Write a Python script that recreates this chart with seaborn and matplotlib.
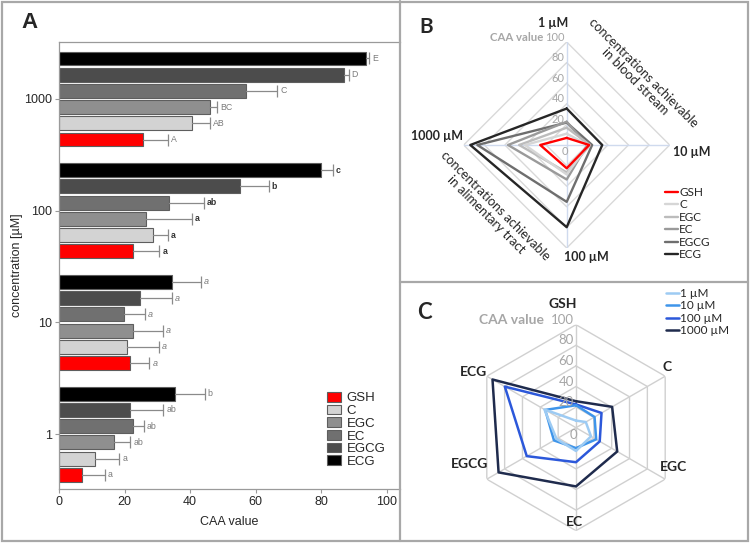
import numpy as np
import pandas as pd
import matplotlib
matplotlib.use("Agg")
import matplotlib.pyplot as plt
import seaborn as sns
from matplotlib.patches import Patch, Rectangle
from matplotlib.lines import Line2D

# ---------------- data ----------------
compounds = ["GSH", "C", "EGC", "EC", "EGCG", "ECG"]
concentrations = ["1", "10", "100", "1000"]
conc_labels = ["1 µM", "10 µM", "100 µM", "1000 µM"]

# CAA values per compound, in order 1, 10, 100, 1000 µM
caa_gsh = [6.9, 21.8, 22.6, 25.7]
caa_c = [11.0, 20.8, 28.6, 40.5]
caa_egc = [16.8, 22.6, 26.6, 46.2]
caa_ec = [22.6, 19.8, 33.5, 57.0]
caa_egcg = [21.8, 24.7, 55.2, 86.8]
caa_ecg = [35.4, 34.5, 79.8, 93.6]

err_gsh = [7.1, 5.8, 8.0, 7.6]
err_c = [7.4, 9.8, 4.7, 5.7]
err_egc = [5.0, 9.2, 13.9, 2.0]
err_ec = [3.2, 6.5, 10.8, 9.6]
err_egcg = [10.0, 9.8, 8.8, 1.5]
err_ecg = [9.0, 8.8, 3.7, 1.0]

let_gsh = ["a", "a", "a", "A"]
let_c = ["a", "a", "a", "AB"]
let_egc = ["ab", "a", "a", "BC"]
let_ec = ["ab", "a", "ab", "C"]
let_egcg = ["ab", "a", "b", "D"]
let_ecg = ["b", "a", "c", "E"]

radial_ticks = [0, 20, 40, 60, 80, 100]

values = dict(zip(compounds, [caa_gsh, caa_c, caa_egc, caa_ec, caa_egcg, caa_ecg]))
errors = dict(zip(compounds, [err_gsh, err_c, err_egc, err_ec, err_egcg, err_ecg]))
letters = dict(zip(compounds, [let_gsh, let_c, let_egc, let_ec, let_egcg, let_ecg]))

rows = []
for comp in compounds:
    for i, conc in enumerate(concentrations):
        rows.append(dict(compound=comp, conc=conc, conc_label=conc_labels[i],
                         value=values[comp][i], err=errors[comp][i],
                         letter=letters[comp][i]))
df = pd.DataFrame(rows)

# ---------------- style ----------------
sns.set_theme(style="white")
plt.rcParams["font.family"] = ["Liberation Sans", "DejaVu Sans"]
CAL = ["Lato", "DejaVu Sans"]

W, H = 750, 545
def fx(x):
    return x / W
def fy(y):
    return 1 - y / H

fig = plt.figure(figsize=(7.5, 5.45), dpi=100)

# frame
frame_col = "#a8a8a8"
fig.add_artist(Rectangle((fx(2), fy(541)), fx(746), 539 / H, transform=fig.transFigure,
                         fill=False, edgecolor=frame_col, lw=1.6))
fig.add_artist(Line2D([fx(400), fx(400)], [fy(1), fy(541)], transform=fig.transFigure,
                      color=frame_col, lw=1.6))
fig.add_artist(Line2D([fx(400), fx(748)], [fy(282), fy(282)], transform=fig.transFigure,
                      color=frame_col, lw=1.6))

# ---------------- panel A ----------------
bar_colors = {"GSH": "#ff0000", "C": "#d3d3d3", "EGC": "#8f8f8f",
              "EC": "#707070", "EGCG": "#4c4c4c", "ECG": "#000000"}
axA = fig.add_axes([fx(59), fy(489), (400 - 59) / W, (489 - 42) / H])
order = ["1000", "100", "10", "1"]
sns.barplot(data=df, y="conc", x="value", hue="compound", order=order,
            hue_order=compounds[::-1], palette=bar_colors, orient="h",
            width=0.87, gap=0.14, errorbar=None, edgecolor="#5e5e5e",
            linewidth=0.8, saturation=1, legend=False, ax=axA)

for p in axA.patches:
    yc = p.get_y() + p.get_height() / 2
    cat = order[int(round(yc))]
    sub = df[df.conc == cat]
    row = sub.iloc[(sub.value - p.get_width()).abs().argmin()]
    v, e = row.value, row.err
    axA.plot([v, v + e], [yc, yc], color="#8a8a8a", lw=0.9, zorder=3)
    axA.plot([v + e], [yc], marker="|", ms=8, mew=0.9, color="#8a8a8a", zorder=3)
    kw = dict(fontsize=6.3, color="#7a7a7a")
    if cat == "100":
        kw = dict(fontsize=6.3, color="#333333", fontweight="bold")
    elif cat == "10":
        kw = dict(fontsize=6.5, color="#7a7a7a", fontstyle="italic")
    axA.text(v + e + 0.9, yc, row.letter, va="center", ha="left", **kw)

axA.set_xlim(0, 104)
axA.set_ylim(3.49, -0.51)
axA.set_xticks([0, 20, 40, 60, 80, 100])
axA.set_xlabel("CAA value", fontsize=9, labelpad=6)
axA.set_ylabel("concentration [µM]", fontsize=9, labelpad=1)
axA.tick_params(axis="both", labelsize=9, length=3, color="#9a9a9a", width=0.8,
                bottom=True, left=True, pad=2)
for s in axA.spines.values():
    s.set_color("#9a9a9a")
    s.set_linewidth(0.9)
axA.spines["right"].set_visible(False)

handlesA = [Patch(facecolor=bar_colors[c], edgecolor="#5e5e5e", lw=0.8) for c in compounds]
axA.legend(handlesA, compounds, loc="upper left", bbox_to_anchor=(fx(327), fy(392)),
           bbox_transform=fig.transFigure, frameon=False, fontsize=9.5,
           handlelength=1.05, handleheight=0.75, handletextpad=0.45,
           labelspacing=0.02, borderaxespad=0, borderpad=0)

fig.text(fx(30), fy(23), "A", fontsize=16, fontweight="bold", ha="center", va="center")


# ---------------- radar helper ----------------
def radar_grid(ax, thetas, grid_col, spoke_col, label_size):
    closed = list(thetas) + [thetas[0]]
    for lvl in radial_ticks[1:]:
        ax.plot(closed, [lvl] * len(closed), color=grid_col, lw=1.0, zorder=1)
    for th in thetas:
        ax.plot([th, th], [0, 100], color=spoke_col, lw=1.0, zorder=1)
    ax.set_theta_zero_location("N")
    ax.set_theta_direction(-1)
    ax.set_ylim(0, 100)
    ax.grid(False)
    ax.set_xticks([])
    ax.set_yticks([])
    ax.spines["polar"].set_visible(False)
    ax.set_xlabel("")
    ax.set_ylabel("")
    for lvl in radial_ticks:
        if lvl == 0:
            ax.annotate("0", xy=(0, 0), xytext=(1, -5), textcoords="offset points",
                        ha="right", va="center", fontsize=label_size, color="#a6a6a6",
                        family=CAL)
        else:
            ax.annotate(str(lvl), xy=(0, lvl), xytext=(-1.5, 3.5), textcoords="offset points",
                        ha="right", va="center", fontsize=label_size, color="#a6a6a6",
                        family=CAL)


# ---------------- panel B ----------------
line_greys = {"GSH": "#ff0000", "C": "#d6d6d6", "EGC": "#bcbcbc", "EC": "#9a9a9a",
              "EGCG": "#6e6e6e", "ECG": "#262626"}
cB, rB = (566.7, 145), 103
axB = fig.add_axes([fx(cB[0] - rB), fy(cB[1] + rB), 2 * rB / W, 2 * rB / H],
                   projection="polar")
thetaB = np.deg2rad([0, 90, 180, 270])
radar_grid(axB, thetaB, "#d9d9d9", "#cfdaee", 8)
rowsB = []
for comp in compounds:
    vals = values[comp]
    for th, v in zip(list(thetaB) + [thetaB[0]], list(vals) + [vals[0]]):
        rowsB.append(dict(compound=comp, theta=th, value=v))
dfB = pd.DataFrame(rowsB)
sns.lineplot(data=dfB, x="theta", y="value", hue="compound",
             hue_order=compounds[::-1], palette=line_greys, sort=False,
             estimator=None, lw=1.7, legend=False, ax=axB)
axB.set_ylim(0, 100)
axB.set_xlabel("")
axB.set_ylabel("")
axB.annotate("CAA value", xy=(0, 100), xytext=(-17, 3.5), textcoords="offset points",
             ha="right", va="center", fontsize=8.2, color="#a6a6a6", fontweight="bold",
             family=CAL)

for txt, (x, y) in zip(conc_labels, [(553, 22.7), (691.5, 151.7), (586, 256.7), (437, 136)]):
    fig.text(fx(x), fy(y), txt, ha="center", va="center", fontsize=9,
             fontweight="bold", family=CAL)
fig.text(fx(639), fy(77.4), "concentrations achievable\nin blood stream", rotation=-45,
         rotation_mode="anchor", ha="center", va="center", multialignment="center",
         fontsize=9.4, family=CAL, linespacing=1.05)
fig.text(fx(491), fy(210), "concentrations achievable\nin alimentary tract", rotation=-45,
         rotation_mode="anchor", ha="center", va="center", multialignment="center",
         fontsize=9.4, family=CAL, linespacing=1.05)

handlesB = [Line2D([], [], color=line_greys[c], lw=1.7) for c in compounds]
axB.legend(handlesB, compounds, loc="upper left", bbox_to_anchor=(fx(665), fy(187)),
           bbox_transform=fig.transFigure, frameon=False,
           prop=dict(family=CAL, size=8.5), handlelength=1.1, handletextpad=0.1,
           labelspacing=0.12, borderaxespad=0, borderpad=0)
fig.text(fx(426), fy(26.7), "B", fontsize=15, fontweight="bold", ha="center",
         va="center", family=CAL)

# ---------------- panel C ----------------
blue_cols = {"1 µM": "#9dcbf3", "10 µM": "#3f95ea", "100 µM": "#2c58da",
             "1000 µM": "#1f2b4d"}
cC, rC = (576, 427.7), 103
axC = fig.add_axes([fx(cC[0] - rC), fy(cC[1] + rC), 2 * rC / W, 2 * rC / H],
                   projection="polar")
thetaC = np.deg2rad([0, 60, 120, 180, 240, 300])
radar_grid(axC, thetaC, "#d0d0d0", "#d0d0d0", 9.5)
rowsC = []
for i, cl in enumerate(conc_labels):
    vals = [values[c][i] for c in compounds]
    for th, v in zip(list(thetaC) + [thetaC[0]], vals + [vals[0]]):
        rowsC.append(dict(conc=cl, theta=th, value=v))
dfC = pd.DataFrame(rowsC)
sns.lineplot(data=dfC, x="theta", y="value", hue="conc",
             hue_order=conc_labels[::-1], palette=blue_cols, sort=False,
             estimator=None, lw=1.8, legend=False, ax=axC)
axC.set_ylim(0, 100)
axC.set_xlabel("")
axC.set_ylabel("")
axC.annotate("CAA value", xy=(0, 100), xytext=(-23, 3.5), textcoords="offset points",
             ha="right", va="center", fontsize=10, color="#a6a6a6", fontweight="bold",
             family=CAL)

for txt, (x, y) in zip(compounds, [(563, 304), (667.5, 367), (673.5, 466.7),
                                   (574, 521.7), (469.5, 464.3), (473, 371.7)]):
    fig.text(fx(x), fy(y), txt, ha="center", va="center", fontsize=10,
             fontweight="bold", family=CAL)

handlesC = [Line2D([], [], color=blue_cols[c], lw=1.8) for c in conc_labels]
axC.legend(handlesC, conc_labels, loc="upper left", bbox_to_anchor=(fx(666), fy(288)),
           bbox_transform=fig.transFigure, frameon=False,
           prop=dict(family=CAL, size=8.5), handlelength=1.1, handletextpad=0.1,
           labelspacing=0.12, borderaxespad=0, borderpad=0)
fig.text(fx(424), fy(312.5), "C", fontsize=16, fontweight="bold", ha="center",
         va="center", family=CAL)

fig.savefig("out.png", dpi=100)
